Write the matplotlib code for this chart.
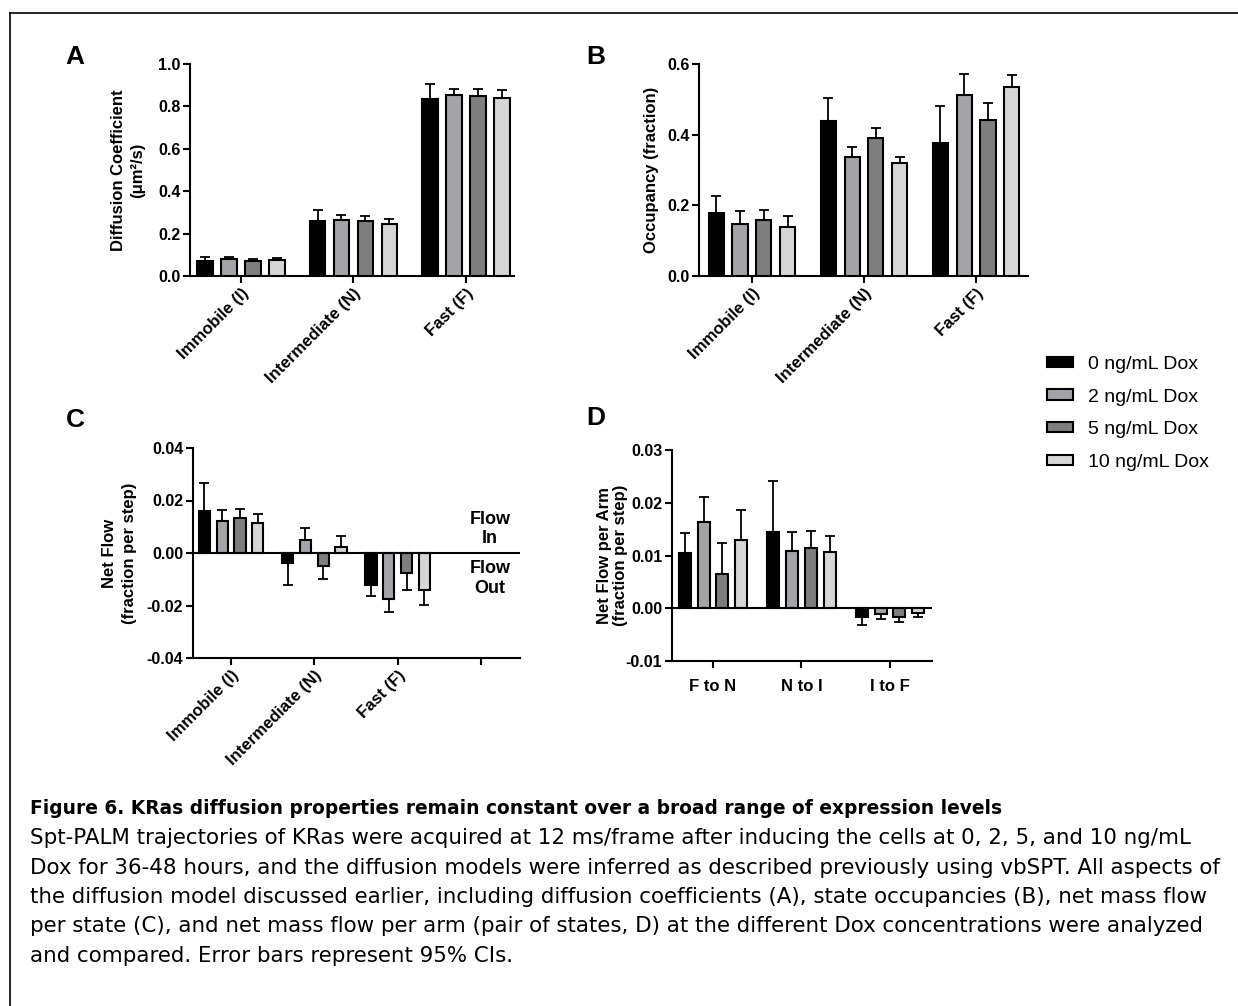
import numpy as np
import matplotlib
matplotlib.use("Agg")
import matplotlib.pyplot as plt
from matplotlib.patches import Patch
from matplotlib.lines import Line2D

plt.rcParams['font.family'] = ['Liberation Sans', 'DejaVu Sans']
plt.rcParams['axes.unicode_minus'] = False

# legend groups
doses = ['0 ng/mL Dox', '2 ng/mL Dox', '5 ng/mL Dox', '10 ng/mL Dox']
dose_colors = ['#000000', '#a4a4a8', '#7e7e7e', '#d6d6d6']

states = ['Immobile (I)', 'Intermediate (N)', 'Fast (F)']
arms = ['F to N', 'N to I', 'I to F']

# A - diffusion coefficient (um^2/s), one row per dose, 95% CI half width
diff_coef = [[0.072, 0.259, 0.836],
             [0.080, 0.263, 0.852],
             [0.072, 0.259, 0.849],
             [0.075, 0.247, 0.841]]
diff_ci = [[0.016, 0.052, 0.071],
           [0.011, 0.025, 0.028],
           [0.010, 0.022, 0.031],
           [0.010, 0.020, 0.035]]

# B - occupancy
occ = [[0.179, 0.439, 0.375],
       [0.147, 0.336, 0.511],
       [0.159, 0.390, 0.442],
       [0.140, 0.319, 0.535]]
occ_ci = [[0.048, 0.064, 0.106],
          [0.037, 0.029, 0.060],
          [0.028, 0.030, 0.049],
          [0.029, 0.019, 0.034]]

# C - net flow per state (4th slot on the axis is empty)
flow = [[0.0161, -0.0039, -0.0120],
        [0.0122, 0.0051, -0.0176],
        [0.0132, -0.0048, -0.0078],
        [0.0115, 0.0022, -0.0140]]
flow_ci = [[0.0106, 0.0084, 0.0045],
           [0.0040, 0.0046, 0.0047],
           [0.0034, 0.0051, 0.0064],
           [0.0032, 0.0044, 0.0057]]

# D - net flow per arm
arm_flow = [[0.0104, 0.0144, -0.0017],
            [0.0163, 0.0109, -0.0011],
            [0.0065, 0.0115, -0.0017],
            [0.0130, 0.0106, -0.0009]]
arm_ci = [[0.0039, 0.0098, 0.0015],
          [0.0047, 0.0036, 0.0010],
          [0.0059, 0.0031, 0.0010],
          [0.0056, 0.0031, 0.0007]]

W, H = 1238, 1006
fig = plt.figure(figsize=(W / 100, H / 100), dpi=100)

LW = 1.5
TICK_FS = 11.5
LAB_FS = 12


def px_axes(l, t, r, b):
    return fig.add_axes([l / W, 1 - b / H, (r - l) / W, (b - t) / H])


def bars(ax, means, cis):
    step = 0.213
    for i, (m, c, col) in enumerate(zip(means, cis, dose_colors)):
        m = np.array(m)
        c = np.array(c)
        xs = np.arange(len(m)) + (i - 1.5) * step
        ax.bar(xs, m, width=0.135, color=col, edgecolor='black', linewidth=LW, zorder=3)
        lo = np.where(m < 0, c, 0)
        hi = np.where(m >= 0, c, 0)
        ax.errorbar(xs, m, yerr=[lo, hi], fmt='none', ecolor='black',
                    elinewidth=1.3, capsize=3.5, capthick=1.3, zorder=2)


def style(ax, cats, xlim, ylim, yticks, fmt, ylabel, rot=45, pad=6, ls=1.2):
    ax.set_xlim(*xlim)
    ax.set_ylim(*ylim)
    ax.set_yticks(yticks)
    ax.set_yticklabels([fmt % v for v in yticks], fontsize=TICK_FS, fontweight='bold')
    ax.set_xticks(np.arange(len(cats)))
    if rot:
        ax.set_xticklabels(cats, rotation=rot, ha='right', rotation_mode='anchor',
                           fontsize=LAB_FS, fontweight='bold')
    else:
        ax.set_xticklabels(cats, fontsize=LAB_FS, fontweight='bold')
    for s in ['top', 'right']:
        ax.spines[s].set_visible(False)
    for s in ['left', 'bottom']:
        ax.spines[s].set_linewidth(LW)
    ax.tick_params(width=LW, length=5, pad=2)
    ax.set_ylabel(ylabel, fontsize=LAB_FS, fontweight='bold', labelpad=pad, linespacing=ls)


# A
axA = px_axes(190, 64, 514, 276)
bars(axA, diff_coef, diff_ci)
style(axA, states, (-0.453, 2.427), (0, 1.0), [0, 0.2, 0.4, 0.6, 0.8, 1.0], '%.1f',
      'Diffusion Coefficient\n(\u03bcm\u00b2/s)', pad=9, ls=1.4)

# B
axB = px_axes(699, 64, 1028, 276)
bars(axB, occ, occ_ci)
style(axB, states, (-0.473, 2.464), (0, 0.6), [0, 0.2, 0.4, 0.6], '%.1f',
      'Occupancy (fraction)')

# C
axC = px_axes(193, 448, 520, 658)
bars(axC, flow, flow_ci)
axC.axhline(0, color='black', lw=LW, zorder=4)
style(axC, states + [''], (-0.456, 3.468), (-0.04, 0.04), [-0.04, -0.02, 0.0, 0.02, 0.04], '%.2f',
      'Net Flow\n(fraction per step)', pad=7, ls=1.4)
axC.text(3.11, 0.0022, 'Flow\nIn', ha='center', va='bottom', fontsize=13, fontweight='bold', linespacing=1.2)
axC.text(3.11, -0.0026, 'Flow\nOut', ha='center', va='top', fontsize=13, fontweight='bold', linespacing=1.25)

# D
axD = px_axes(672, 450, 932, 661)
bars(axD, arm_flow, arm_ci)
axD.axhline(0, color='black', lw=LW, zorder=4)
style(axD, arms, (-0.463, 2.475), (-0.01, 0.03), [-0.01, 0.0, 0.01, 0.02, 0.03], '%.2f',
      'Net Flow per Arm\n(fraction per step)', rot=0, pad=-2, ls=1.1)
axD.tick_params(axis='x', pad=8)

# panel letters
for lab, x, y in [('A', 75, 57), ('B', 596, 57), ('C', 75, 420), ('D', 596, 418)]:
    fig.text(x / W, 1 - y / H, lab, fontsize=19, fontweight='bold', ha='center', va='center')

# legend
handles = [Patch(facecolor=c, edgecolor='black', linewidth=LW) for c in dose_colors]
fig.legend(handles, doses, loc='upper left', bbox_to_anchor=(1047 / W, 1 - 356 / H),
           frameon=False, fontsize=14, borderpad=0, borderaxespad=0,
           handlelength=1.35, handleheight=0.45, handletextpad=0.75, labelspacing=0.8)

# caption
cap_font = ['DejaVu Sans']
fig.text(30 / W, 1 - 809 / H,
         'Figure 6. KRas diffusion properties remain constant over a broad range of expression levels',
         fontsize=13.45, fontweight='bold', va='center', ha='left', family=cap_font)
caption = ['Spt-PALM trajectories of KRas were acquired at 12 ms/frame after inducing the cells at 0, 2, 5, and 10 ng/mL',
           'Dox for 36-48 hours, and the diffusion models were inferred as described previously using vbSPT. All aspects of',
           'the diffusion model discussed earlier, including diffusion coefficients (A), state occupancies (B), net mass flow',
           'per state (C), and net mass flow per arm (pair of states, D) at the different Dox concentrations were analyzed',
           'and compared. Error bars represent 95% CIs.']
for i, line in enumerate(caption):
    fig.text(30 / W, 1 - (838 + 29.5 * i) / H, line, fontsize=15.4, va='center', ha='left', family=cap_font)

# frame lines (top and left)
fig.add_artist(Line2D([9.5 / W, 1], [1 - 12.5 / H, 1 - 12.5 / H], color='black', lw=1.2))
fig.add_artist(Line2D([9.5 / W, 9.5 / W], [0, 1 - 12.5 / H], color='black', lw=1.2))

fig.savefig('out.png', dpi=100)
